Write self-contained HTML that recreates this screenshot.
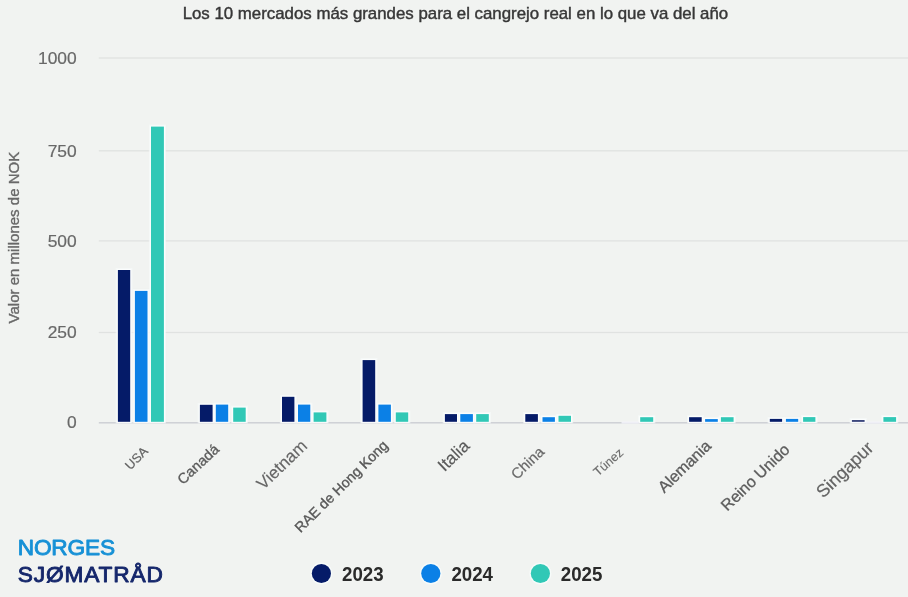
<!DOCTYPE html>
<html lang="es"><head><meta charset="utf-8"><title>Los 10 mercados más grandes para el cangrejo real</title>
<style>
html,body{margin:0;padding:0;background:#f1f3f1;}
body{width:908px;height:597px;overflow:hidden;position:relative;font-family:"Liberation Sans",Arial,sans-serif;}
svg{position:absolute;left:0;top:0;display:block}
text{font-family:"Liberation Sans",Arial,sans-serif}
</style></head><body>
<svg width="908" height="597" viewBox="0 0 908 597">
<rect width="908" height="597" fill="#f1f3f1"/>
<g id="grid">
<rect x="98.8" y="57.35" width="809.2" height="1.3" fill="#e0e2e1"/>
<rect x="98.8" y="150.15" width="809.2" height="1.3" fill="#e0e2e1"/>
<rect x="98.8" y="240.25" width="809.2" height="1.3" fill="#e0e2e1"/>
<rect x="98.8" y="331.85" width="809.2" height="1.3" fill="#e0e2e1"/>
<rect x="98.8" y="422.10" width="809.2" height="1.4" fill="#cbced3"/>
</g>
<g id="bars">
<rect x="115.7" y="268.0" width="16.7" height="155.4" fill="#f8fbfc" opacity="0.6"/>
<rect x="132.7" y="288.9" width="17.0" height="134.5" fill="#f8fbfc" opacity="0.6"/>
<rect x="148.8" y="124.6" width="17.3" height="298.8" fill="#f8fbfc" opacity="0.6"/>
<rect x="197.7" y="402.8" width="17.1" height="20.6" fill="#f8fbfc" opacity="0.6"/>
<rect x="213.6" y="402.6" width="16.8" height="20.8" fill="#f8fbfc" opacity="0.6"/>
<rect x="231.0" y="405.6" width="16.9" height="17.8" fill="#f8fbfc" opacity="0.6"/>
<rect x="279.8" y="394.8" width="16.8" height="28.6" fill="#f8fbfc" opacity="0.6"/>
<rect x="295.8" y="402.6" width="16.7" height="20.8" fill="#f8fbfc" opacity="0.6"/>
<rect x="311.4" y="410.4" width="17.2" height="13.0" fill="#f8fbfc" opacity="0.6"/>
<rect x="360.4" y="358.1" width="17.0" height="65.3" fill="#f8fbfc" opacity="0.6"/>
<rect x="376.2" y="402.6" width="16.9" height="20.8" fill="#f8fbfc" opacity="0.6"/>
<rect x="393.6" y="410.4" width="16.8" height="13.0" fill="#f8fbfc" opacity="0.6"/>
<rect x="442.7" y="412.1" width="16.5" height="11.3" fill="#f8fbfc" opacity="0.6"/>
<rect x="458.1" y="412.1" width="17.0" height="11.3" fill="#f8fbfc" opacity="0.6"/>
<rect x="474.0" y="412.1" width="17.0" height="11.3" fill="#f8fbfc" opacity="0.6"/>
<rect x="523.1" y="412.1" width="17.0" height="11.3" fill="#f8fbfc" opacity="0.6"/>
<rect x="540.3" y="415.2" width="16.8" height="8.2" fill="#f8fbfc" opacity="0.6"/>
<rect x="556.3" y="413.8" width="16.9" height="9.6" fill="#f8fbfc" opacity="0.6"/>
<rect x="638.0" y="415.2" width="17.4" height="8.2" fill="#f8fbfc" opacity="0.6"/>
<rect x="686.9" y="415.2" width="17.0" height="8.2" fill="#f8fbfc" opacity="0.6"/>
<rect x="702.9" y="417.1" width="17.1" height="6.3" fill="#f8fbfc" opacity="0.6"/>
<rect x="718.7" y="415.2" width="17.1" height="8.2" fill="#f8fbfc" opacity="0.6"/>
<rect x="767.6" y="416.9" width="16.7" height="6.5" fill="#f8fbfc" opacity="0.6"/>
<rect x="783.7" y="416.9" width="16.7" height="6.5" fill="#f8fbfc" opacity="0.6"/>
<rect x="800.9" y="415.1" width="16.7" height="8.3" fill="#f8fbfc" opacity="0.6"/>
<rect x="849.7" y="418.1" width="17.1" height="5.3" fill="#f8fbfc" opacity="0.6"/>
<rect x="881.2" y="415.1" width="17.1" height="8.3" fill="#f8fbfc" opacity="0.6"/>
<rect x="116.7" y="268.9" width="14.7" height="154.0" fill="#fbfefe" opacity="0.85"/>
<rect x="133.7" y="289.8" width="15.0" height="133.1" fill="#fbfefe" opacity="0.85"/>
<rect x="149.8" y="125.5" width="15.3" height="297.4" fill="#fbfefe" opacity="0.85"/>
<rect x="198.7" y="403.7" width="15.1" height="19.2" fill="#fbfefe" opacity="0.85"/>
<rect x="214.6" y="403.5" width="14.8" height="19.4" fill="#fbfefe" opacity="0.85"/>
<rect x="232.0" y="406.5" width="14.9" height="16.4" fill="#fbfefe" opacity="0.85"/>
<rect x="280.8" y="395.7" width="14.8" height="27.2" fill="#fbfefe" opacity="0.85"/>
<rect x="296.8" y="403.5" width="14.7" height="19.4" fill="#fbfefe" opacity="0.85"/>
<rect x="312.4" y="411.3" width="15.2" height="11.6" fill="#fbfefe" opacity="0.85"/>
<rect x="361.4" y="359.0" width="15.0" height="63.9" fill="#fbfefe" opacity="0.85"/>
<rect x="377.2" y="403.5" width="14.9" height="19.4" fill="#fbfefe" opacity="0.85"/>
<rect x="394.6" y="411.3" width="14.8" height="11.6" fill="#fbfefe" opacity="0.85"/>
<rect x="443.7" y="413.0" width="14.5" height="9.9" fill="#fbfefe" opacity="0.85"/>
<rect x="459.1" y="413.0" width="15.0" height="9.9" fill="#fbfefe" opacity="0.85"/>
<rect x="475.0" y="413.0" width="15.0" height="9.9" fill="#fbfefe" opacity="0.85"/>
<rect x="524.1" y="413.0" width="15.0" height="9.9" fill="#fbfefe" opacity="0.85"/>
<rect x="541.3" y="416.1" width="14.8" height="6.8" fill="#fbfefe" opacity="0.85"/>
<rect x="557.3" y="414.7" width="14.9" height="8.2" fill="#fbfefe" opacity="0.85"/>
<rect x="639.0" y="416.1" width="15.4" height="6.8" fill="#fbfefe" opacity="0.85"/>
<rect x="687.9" y="416.1" width="15.0" height="6.8" fill="#fbfefe" opacity="0.85"/>
<rect x="703.9" y="418.0" width="15.1" height="4.9" fill="#fbfefe" opacity="0.85"/>
<rect x="719.7" y="416.1" width="15.1" height="6.8" fill="#fbfefe" opacity="0.85"/>
<rect x="768.6" y="417.8" width="14.7" height="5.1" fill="#fbfefe" opacity="0.85"/>
<rect x="784.7" y="417.8" width="14.7" height="5.1" fill="#fbfefe" opacity="0.85"/>
<rect x="801.9" y="416.0" width="14.7" height="6.9" fill="#fbfefe" opacity="0.85"/>
<rect x="850.7" y="419.0" width="15.1" height="3.9" fill="#fbfefe" opacity="0.85"/>
<rect x="882.2" y="416.0" width="15.1" height="6.9" fill="#fbfefe" opacity="0.85"/>
<rect x="621.5" y="421.6" width="17.0" height="2.0" fill="#f4f5fb" opacity="0.85"/>
<rect x="866.0" y="421.6" width="16.0" height="2.0" fill="#f4f5fb" opacity="0.85"/>
<rect x="117.9" y="270.0" width="12.3" height="151.8" fill="#051b68"/>
<rect x="134.9" y="290.9" width="12.6" height="130.9" fill="#0b80e6"/>
<rect x="151.0" y="126.6" width="12.9" height="295.2" fill="#31c8b6"/>
<rect x="199.9" y="404.8" width="12.7" height="17.0" fill="#051b68"/>
<rect x="215.8" y="404.6" width="12.4" height="17.2" fill="#0b80e6"/>
<rect x="233.2" y="407.6" width="12.5" height="14.2" fill="#31c8b6"/>
<rect x="282.0" y="396.8" width="12.4" height="25.0" fill="#051b68"/>
<rect x="298.0" y="404.6" width="12.3" height="17.2" fill="#0b80e6"/>
<rect x="313.6" y="412.4" width="12.8" height="9.4" fill="#31c8b6"/>
<rect x="362.6" y="360.1" width="12.6" height="61.7" fill="#051b68"/>
<rect x="378.4" y="404.6" width="12.5" height="17.2" fill="#0b80e6"/>
<rect x="395.8" y="412.4" width="12.4" height="9.4" fill="#31c8b6"/>
<rect x="444.9" y="414.1" width="12.1" height="7.7" fill="#051b68"/>
<rect x="460.3" y="414.1" width="12.6" height="7.7" fill="#0b80e6"/>
<rect x="476.2" y="414.1" width="12.6" height="7.7" fill="#31c8b6"/>
<rect x="525.3" y="414.1" width="12.6" height="7.7" fill="#051b68"/>
<rect x="542.5" y="417.2" width="12.4" height="4.6" fill="#0b80e6"/>
<rect x="558.5" y="415.8" width="12.5" height="6.0" fill="#31c8b6"/>
<rect x="640.2" y="417.2" width="13.0" height="4.6" fill="#31c8b6"/>
<rect x="689.1" y="417.2" width="12.6" height="4.6" fill="#051b68"/>
<rect x="705.1" y="419.1" width="12.7" height="2.7" fill="#0b80e6"/>
<rect x="720.9" y="417.2" width="12.7" height="4.6" fill="#31c8b6"/>
<rect x="769.8" y="418.9" width="12.3" height="2.9" fill="#051b68"/>
<rect x="785.9" y="418.9" width="12.3" height="2.9" fill="#0b80e6"/>
<rect x="803.1" y="417.1" width="12.3" height="4.7" fill="#31c8b6"/>
<rect x="851.9" y="420.1" width="12.7" height="1.7" fill="#27346f"/>
<rect x="883.4" y="417.1" width="12.7" height="4.7" fill="#31c8b6"/>
</g>
<text x="455.4" y="18.8" text-anchor="middle" font-size="15.7" fill="#373737" stroke="#373737" stroke-width="0.4" textLength="545.5" lengthAdjust="spacingAndGlyphs">Los 10 mercados más grandes para el cangrejo real en lo que va del año</text>
<g id="yticks" font-size="17.4" fill="#686868" stroke="#686868" stroke-width="0.2" text-anchor="end">
<text x="76.7" y="64.20">1000</text>
<text x="76.7" y="156.90">750</text>
<text x="76.7" y="246.80">500</text>
<text x="76.7" y="338.10">250</text>
<text x="76.7" y="428.10">0</text>
</g>
<text transform="translate(19.2,237.6) rotate(-90)" text-anchor="middle" font-size="14.5" fill="#686868" stroke="#686868" stroke-width="0.35" textLength="171.6" lengthAdjust="spacingAndGlyphs">Valor en millones de NOK</text>
<g id="xlabels" text-anchor="end">
<text transform="translate(148.8,452.0) rotate(-45.0)" font-size="12.7" fill="#626262" stroke="#626262" stroke-width="0.20">USA</text>
<text transform="translate(220.1,450.5) rotate(-43.0)" font-size="14.5" fill="#5a5a5a" stroke="#5a5a5a" stroke-width="0.32">Canadá</text>
<text transform="translate(308.2,447.2) rotate(-44.0)" font-size="17.1" fill="#666666" stroke="#666666" stroke-width="0.15">Vietnam</text>
<text transform="translate(388.8,446.5) rotate(-44.5)" font-size="14.2" fill="#585858" stroke="#585858" stroke-width="0.35">RAE de Hong Kong</text>
<text transform="translate(470.5,447.2) rotate(-44.0)" font-size="17.1" fill="#5a5a5a" stroke="#5a5a5a" stroke-width="0.15">Italia</text>
<text transform="translate(545.2,452.9) rotate(-44.0)" font-size="15.0" fill="#686868" stroke="#686868" stroke-width="0.20">China</text>
<text transform="translate(624.1,453.8) rotate(-41.5)" font-size="12.5" fill="#6c6c6c" stroke="#6c6c6c" stroke-width="0.12">Túnez</text>
<text transform="translate(712.2,447.1) rotate(-44.0)" font-size="16.0" fill="#5c5c5c" stroke="#5c5c5c" stroke-width="0.30">Alemania</text>
<text transform="translate(790.7,450.7) rotate(-44.0)" font-size="16.0" fill="#5c5c5c" stroke="#5c5c5c" stroke-width="0.30">Reino Unido</text>
<text transform="translate(874.5,449.2) rotate(-44.0)" font-size="17.8" fill="#646464" stroke="#646464" stroke-width="0.20">Singapur</text>
</g>
<text x="17.7" y="555.1" font-size="22.7" fill="#1791d6" stroke="#1791d6" stroke-width="0.9" stroke-linejoin="round" textLength="97.4" lengthAdjust="spacing">NORGES</text>
<text x="17.7" y="582.3" font-size="22.7" fill="#15276b" stroke="#15276b" stroke-width="0.9" stroke-linejoin="round" textLength="145.2" lengthAdjust="spacing">SJØMATRÅD</text>
<g id="legend" font-size="19.9" font-weight="bold" fill="#2a2a2a">
<circle cx="321.4" cy="573.5" r="11.0" fill="#fafdfd" opacity="0.7"/>
<circle cx="321.4" cy="573.5" r="9.6" fill="#051b68"/>
<text x="342.0" y="580.7" textLength="41.6" lengthAdjust="spacingAndGlyphs">2023</text>
<circle cx="430.8" cy="573.5" r="11.0" fill="#fafdfd" opacity="0.7"/>
<circle cx="430.8" cy="573.5" r="9.6" fill="#0b80e6"/>
<text x="451.4" y="580.7" textLength="41.6" lengthAdjust="spacingAndGlyphs">2024</text>
<circle cx="540.4" cy="573.5" r="11.0" fill="#fafdfd" opacity="0.7"/>
<circle cx="540.4" cy="573.5" r="9.6" fill="#31c8b6"/>
<text x="560.8" y="580.7" textLength="41.6" lengthAdjust="spacingAndGlyphs">2025</text>
</g>
</svg>
</body></html>
